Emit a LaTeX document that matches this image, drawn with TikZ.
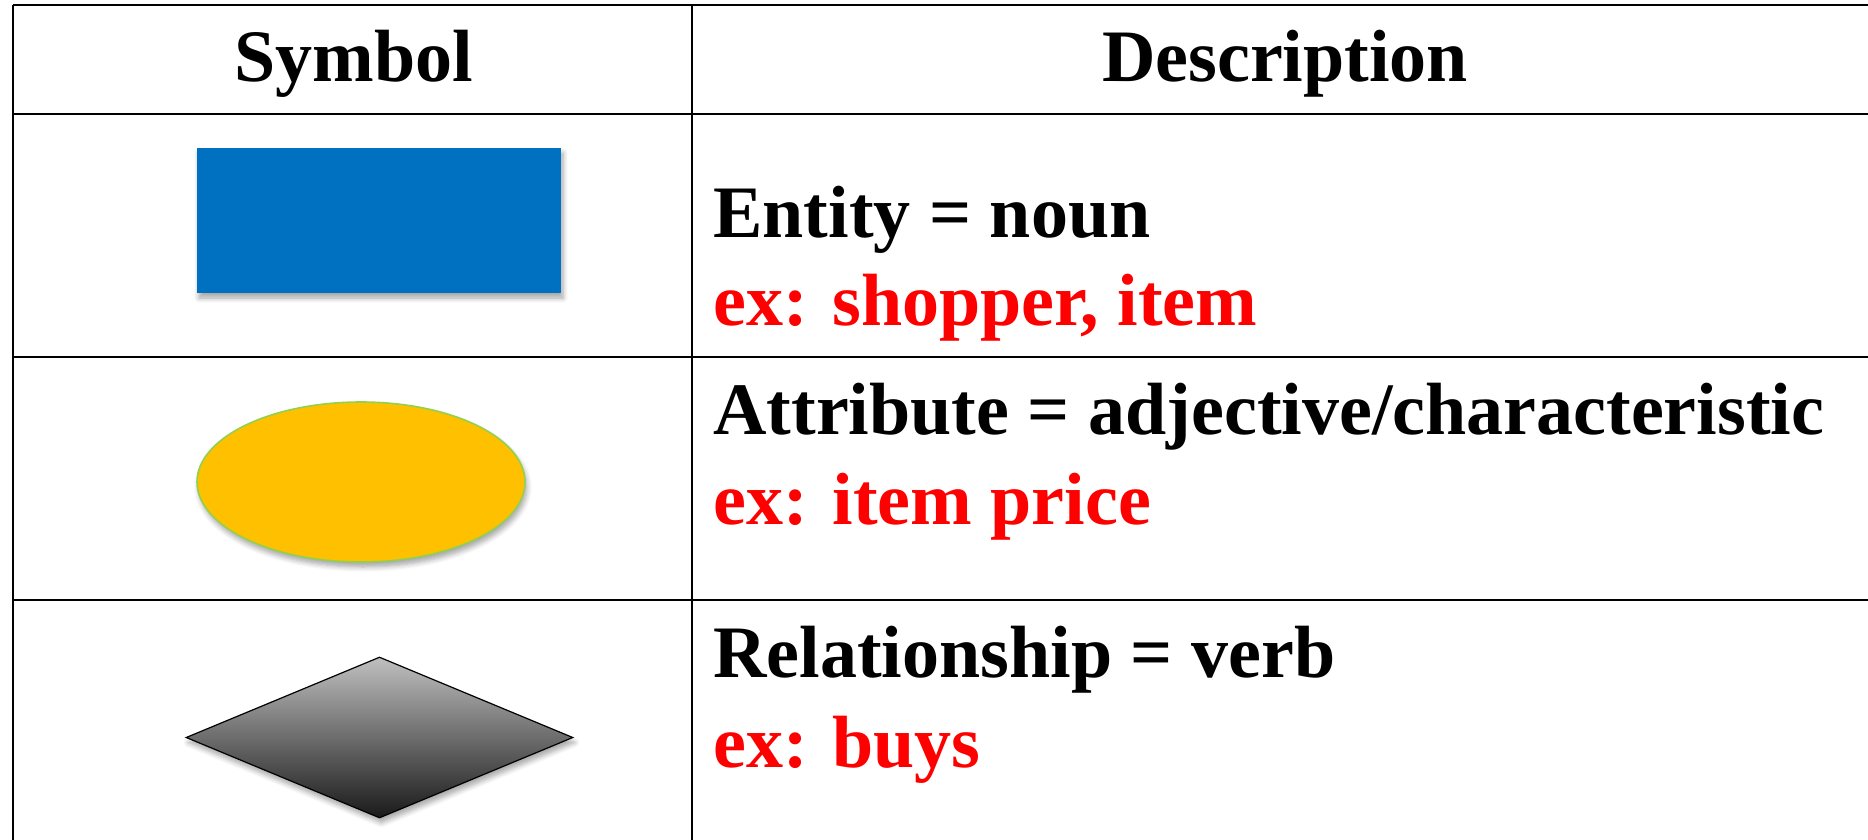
\documentclass[tikz,border=0pt]{standalone}
\usepackage{fontspec}
\setmainfont{Liberation Serif}
\usetikzlibrary{shapes.geometric,shadows.blur}
\definecolor{entblue}{HTML}{0070C0}
\definecolor{attyellow}{HTML}{FFC000}
\definecolor{attgreen}{HTML}{92D050}
\definecolor{exred}{HTML}{FF0000}
\tikzset{
  rule/.style={line width=1.3pt, black},
  txt/.style={font=\fontsize{37}{41}\selectfont\bfseries, inner sep=0pt},
  desc/.style={txt, anchor=base west},
  exline/.style={desc, text=exred},
  softshadow/.style={blur shadow={shadow xshift=1pt, shadow yshift=-2.5pt, shadow blur steps=6, shadow blur radius=2.5pt, shadow opacity=35}},
  entitybox/.style={rectangle, fill=entblue, minimum width=182pt, minimum height=72.5pt, inner sep=0pt, softshadow},
  attrell/.style={ellipse, fill=attyellow, draw=attgreen, line width=0.8pt, minimum width=164pt, minimum height=80pt, inner sep=0pt, softshadow},
  relshape/.style={diamond, draw=black, line width=0.6pt, top color=black!25, bottom color=black!90, minimum width=193.5pt, minimum height=80.5pt, inner sep=0pt, softshadow}
}
\begin{document}
\begin{tikzpicture}[x=0.5pt,y=-0.5pt]
\useasboundingbox (0,0) rectangle (1868,840);
% table rules
\coordinate (tl) at (13,5);
\coordinate (tr) at (1868,5);
\coordinate (h1l) at (13,114);
\coordinate (h1r) at (1868,114);
\coordinate (r1l) at (13,357);
\coordinate (r1r) at (1868,357);
\coordinate (r2l) at (13,600);
\coordinate (r2r) at (1868,600);
\coordinate (bl) at (13,840);
\coordinate (ct) at (692,5);
\coordinate (cb) at (692,840);
\draw[rule] (tl) -- (tr);
\draw[rule] (h1l) -- (h1r);
\draw[rule] (r1l) -- (r1r);
\draw[rule] (r2l) -- (r2r);
\draw[rule] (tl) -- (bl);
\draw[rule] (ct) -- (cb);
% headers
\node[txt, anchor=base] (hsym) at (354,82) {Symbol};
\node[txt, anchor=base] (hdesc) at (1285,82) {Description};
% symbols
\node[entitybox] (ent) at (379,220.5) {};
\node[attrell] (att) at (361,482) {};
\node[relshape] (rel) at (379.5,737.5) {};
% descriptions
\node[desc] (d1) at (713,237) {Entity = noun};
\node[exline] (e1) at (713,325) {ex: shopper, item};
\node[desc] (d2) at (713,434) {Attribute = adjective/characteristic};
\node[exline] (e2) at (713,524) {ex: item price};
\node[desc] (d3) at (713,677) {Relationship = verb};
\node[exline] (e3) at (713,767) {ex: buys};
\end{tikzpicture}
\end{document}
